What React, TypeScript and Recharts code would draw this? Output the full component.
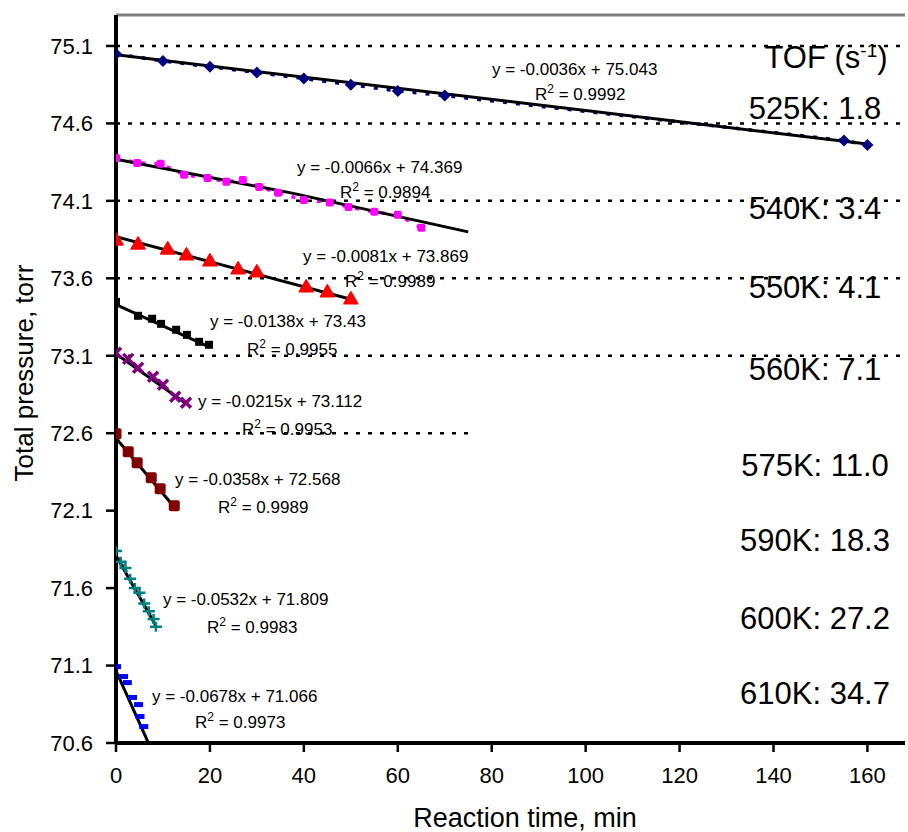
import React from "react";
import { LineChart, Line, XAxis, YAxis, ReferenceLine } from "recharts";

// measured points, time (min) vs total pressure (torr)
const t525 = [0, 10, 20, 30, 40, 50, 60, 70, 155, 160];
const p525 = [75.048, 75.003, 74.966, 74.928, 74.89, 74.85, 74.81, 74.78, 74.49, 74.46];
const t540 = [0, 4.5, 9.5, 14.5, 19.5, 23.5, 27, 30.5, 34.5, 40, 45.5, 49.5, 55, 60, 65];
const p540 = [74.377, 74.345, 74.339, 74.268, 74.248, 74.223, 74.235, 74.19, 74.152, 74.106, 74.09, 74.061, 74.029, 74.01, 73.926];
const t550 = [0, 4.7, 11, 15, 20, 26, 30, 40.5, 45, 50];
const p550 = [73.848, 73.822, 73.79, 73.752, 73.713, 73.661, 73.642, 73.545, 73.513, 73.468];
const t555 = [0, 4.7, 7.7, 9.6, 12.8, 15.1, 17.7, 19.8];
const p555 = [73.448, 73.358, 73.339, 73.306, 73.268, 73.235, 73.19, 73.171];
const t560 = [0, 2.6, 4.7, 7.9, 10, 12.6, 14.9];
const p560 = [73.119, 73.08, 73.023, 72.965, 72.913, 72.835, 72.797];
const t575 = [0, 2.6, 4.5, 7.5, 9.4, 12.4];
const p575 = [72.597, 72.48, 72.41, 72.313, 72.242, 72.132];
const t590 = [0, 1, 2, 3, 4, 5, 6, 7, 8, 8.5];
const p590 = [71.84, 71.77, 71.73, 71.66, 71.6, 71.57, 71.5, 71.45, 71.4, 71.35];
const t610 = [0, 1.5, 2.3, 3.4, 4.7, 5, 5.8];
const p610 = [71.093, 71.029, 70.99, 70.894, 70.848, 70.771, 70.706];

// linear trendlines (end points)
const trendT = [[0, 160], [0, 37.5, 75], [0, 50], [0, 19.8], [0, 14.9], [0, 12.4], [0, 8.5], [0, 7.5]];
const trendP = [
  [75.043, 74.467],
  [74.369, 74.15, 73.9],
  [73.869, 73.465],
  [73.43, 73.157],
  [73.112, 72.792],
  [72.568, 72.124],
  [71.809, 71.357],
  [71.066, 70.56],
];

const equations = [
  "y = -0.0036x + 75.043",
  "y = -0.0066x + 74.369",
  "y = -0.0081x + 73.869",
  "y = -0.0138x + 73.43",
  "y = -0.0215x + 73.112",
  "y = -0.0358x + 72.568",
  "y = -0.0532x + 71.809",
  "y = -0.0678x + 71.066",
];
const rSquared = ["0.9992", "0.9894", "0.9989", "0.9955", "0.9953", "0.9989", "0.9983", "0.9973"];
const tofLabels = ["525K: 1.8", "540K: 3.4", "550K: 4.1", "560K: 7.1", "575K: 11.0", "590K: 18.3", "600K: 27.2", "610K: 34.7"];

const yTicks = [70.6, 71.1, 71.6, 72.1, 72.6, 73.1, 73.6, 74.1, 74.6, 75.1];
const xTicks = [0, 20, 40, 60, 80, 100, 120, 140, 160];
const fullGrid = [75.1, 74.6, 74.1, 73.6, 73.1];

const pts = (t: number[], p: number[]) => t.map((x, i) => ({ t: x, p: p[i] }));

// label placement (pixels)
const eqPos = [
  [492, 75, 535, 100],
  [297, 173, 340, 198],
  [303, 262, 345, 287],
  [210, 327, 247, 355],
  [198, 407, 242, 435],
  [175, 485, 218, 513],
  [163, 605, 207, 633],
  [152, 702, 195, 728],
];
const tofY = [119, 219, 298, 380, 476, 551, 629, 704];

const font = "'Liberation Sans', Arial, sans-serif";

const diamond = (color: string) => (p: any) =>
  p.cx == null ? <g key={p.index} /> : (
    <polygon key={p.index} points={`${p.cx},${p.cy - 6} ${p.cx + 6},${p.cy} ${p.cx},${p.cy + 6} ${p.cx - 6},${p.cy}`} fill={color} />
  );
const square = (color: string, s: number, r = 0) => (p: any) =>
  p.cx == null ? <g key={p.index} /> : (
    <rect key={p.index} x={p.cx - s / 2} y={p.cy - s / 2} width={s} height={s} rx={r} fill={color} />
  );
const triangle = (color: string) => (p: any) =>
  p.cx == null ? <g key={p.index} /> : (
    <polygon key={p.index} points={`${p.cx},${p.cy - 7} ${p.cx + 7},${p.cy + 5} ${p.cx - 7},${p.cy + 5}`} fill={color} stroke={color} strokeLinejoin="round" strokeWidth={1.5} />
  );
const cross = (color: string) => (p: any) =>
  p.cx == null ? <g key={p.index} /> : (
    <path key={p.index} d={`M${p.cx - 5},${p.cy - 5}L${p.cx + 5},${p.cy + 5}M${p.cx + 5},${p.cy - 5}L${p.cx - 5},${p.cy + 5}`} stroke={color} strokeWidth={3.5} />
  );
const plus = (color: string) => (p: any) =>
  p.cx == null ? <g key={p.index} /> : (
    <path key={p.index} d={`M${p.cx - 6},${p.cy}L${p.cx + 6},${p.cy}M${p.cx},${p.cy - 5}L${p.cx},${p.cy + 5}`} stroke={color} strokeWidth={2.5} />
  );
const dash = (color: string) => (p: any) =>
  p.cx == null ? <g key={p.index} /> : (
    <rect key={p.index} x={p.cx - 4} y={p.cy - 2.5} width={9} height={5} fill={color} />
  );

export default function App() {
  return (
    <div style={{ position: "absolute", left: 0, top: 0, width: 908, height: 832, background: "#fff" }}>
      <LineChart width={908} height={832} margin={{ top: 15, right: 3, bottom: 0, left: 16 }}>
        <XAxis
          type="number"
          dataKey="t"
          domain={[0, 168]}
          ticks={xTicks}
          allowDataOverflow
          axisLine={{ stroke: "#000", strokeWidth: 3.5 }}
          tickLine={{ stroke: "#000", strokeWidth: 2.5 }}
          tickSize={9}
          tickMargin={15}
          height={89}
          tick={{ fill: "#000", fontSize: 22, fontFamily: font }}
        />
        <YAxis
          type="number"
          dataKey="p"
          domain={[70.6, 75.3]}
          ticks={yTicks}
          allowDataOverflow
          width={100}
          axisLine={{ stroke: "#000", strokeWidth: 3.5 }}
          tickLine={{ stroke: "#000", strokeWidth: 2.5 }}
          tickSize={10}
          tickMargin={13}
          tick={{ fill: "#000", fontSize: 22, fontFamily: font }}
        />
        <ReferenceLine y={75.3} stroke="#808080" strokeWidth={3} />
        {fullGrid.map((v) => (
          <ReferenceLine key={v} y={v} stroke="#000" strokeWidth={2.5} strokeDasharray="4 8" />
        ))}
        <ReferenceLine segment={[{ x: 0, y: 72.6 }, { x: 75, y: 72.6 }]} stroke="#000" strokeWidth={2.5} strokeDasharray="4 8" />

        <Line data={pts(t525, p525)} dataKey="p" stroke="#000080" strokeWidth={3.5} strokeDasharray="4 9" dot={diamond("#000080")} isAnimationActive={false} />
        <Line data={pts(t540, p540)} dataKey="p" stroke="#FF00FF" strokeWidth={3.5} strokeDasharray="4 9" dot={square("#FF00FF", 8, 2)} isAnimationActive={false} />
        <Line data={pts(t550, p550)} dataKey="p" stroke="none" dot={triangle("#FF0000")} isAnimationActive={false} />
        <Line data={pts(t555, p555)} dataKey="p" stroke="none" dot={square("#000", 8)} isAnimationActive={false} />
        <Line data={pts(t560, p560)} dataKey="p" stroke="none" dot={cross("#800080")} isAnimationActive={false} />
        <Line data={pts(t575, p575)} dataKey="p" stroke="none" dot={square("#800000", 11, 2)} isAnimationActive={false} />
        <Line data={pts(t590, p590)} dataKey="p" stroke="#008080" strokeWidth={2} strokeDasharray="3 4" dot={plus("#008080")} isAnimationActive={false} />
        <Line data={pts(t610, p610)} dataKey="p" stroke="none" dot={dash("#0000FF")} isAnimationActive={false} />

        {trendT.map((tt, i) => (
          <Line key={"tr" + i} data={pts(tt, trendP[i])} dataKey="p" stroke="#000" strokeWidth={3} dot={false} isAnimationActive={false} />
        ))}
        {/* heavier axis lines drawn over the plot edges */}
        <ReferenceLine x={0} stroke="#000" strokeWidth={4} />
        <ReferenceLine y={70.6} stroke="#000" strokeWidth={4} />
      </LineChart>

      <svg width={908} height={832} style={{ position: "absolute", left: 0, top: 0, pointerEvents: "none" }} fontFamily={font} fill="#000">
        {equations.map((eq, i) => (
          <g key={eq} fontSize={17}>
            <text x={eqPos[i][0]} y={eqPos[i][1]}>{eq}</text>
            <text x={eqPos[i][2]} y={eqPos[i][3]}>
              R<tspan dy={-7} fontSize={12}>2</tspan>
              <tspan dy={7}>{" = " + rSquared[i]}</tspan>
            </text>
          </g>
        ))}
        <text x={826} y={68} fontSize={31} textAnchor="middle">
          TOF (s<tspan dy={-11} fontSize={19}>-1</tspan>
          <tspan dy={11}>)</tspan>
        </text>
        {tofLabels.map((s, i) => (
          <text key={s} x={815} y={tofY[i]} fontSize={31} textAnchor="middle">{s}</text>
        ))}
        <text x={525} y={827} fontSize={27} textAnchor="middle">Reaction time, min</text>
        <text x={0} y={0} fontSize={26} textAnchor="middle" transform="translate(33,373) rotate(-90)">Total pressure, torr</text>
      </svg>
    </div>
  );
}
